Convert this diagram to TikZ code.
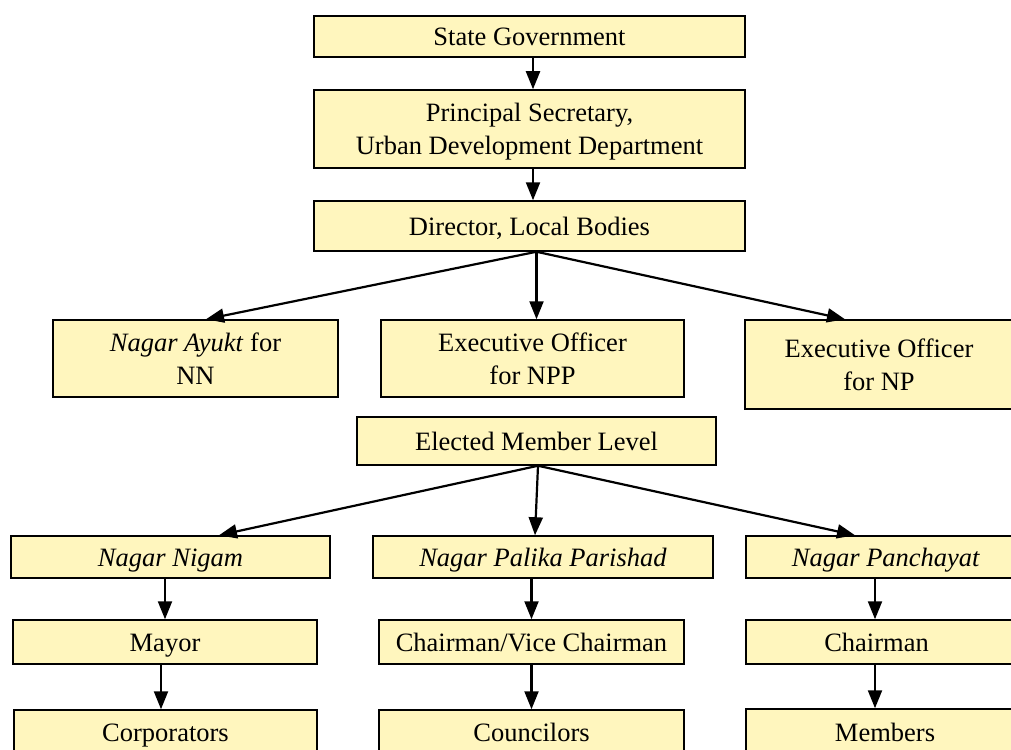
\documentclass[tikz,border=0pt]{standalone}
\usepackage{fontspec}
\setmainfont{Liberation Serif}
\usetikzlibrary{arrows.meta}
\definecolor{boxfill}{HTML}{FFF6BE}
\newcommand{\bs}{\rule[-7pt]{0pt}{32pt}}
\tikzset{
	box/.style={draw=black, line width=1.5pt, fill=boxfill, align=center, inner sep=0pt,
		font=\fontsize{26.5}{31}\selectfont},
	arr/.style={line width=2.2pt, -{Triangle[length=18pt, width=14pt]}}
}
\begin{document}
\begin{tikzpicture}[x=1pt, y=-1pt]
		\useasboundingbox (0, 0) rectangle (1011, 749);
		% officer level
		\node[box, minimum width=431, minimum height=41] (gov) at (529.5, 36.5) {\bs State Government};
		\node[box, minimum width=431, minimum height=78] (psec) at (529.5, 129) {\bs Principal Secretary,\\Urban Development Department\bs};
		\node[box, minimum width=431, minimum height=50] (dir) at (529.5, 226) {\bs Director, Local Bodies};
		\node[box, minimum width=285, minimum height=77] (ayukt) at (195.5, 358.5) {\bs\textit{Nagar Ayukt} for\\NN\bs};
		\node[box, minimum width=303, minimum height=77] (npp) at (532.5, 358.5) {\bs Executive Officer\\for NPP\bs};
		\node[box, minimum width=315, minimum height=89] (np) at (902.5, 364.5) {\bs Executive Officer\hspace*{47pt}\\for NP\hspace*{47pt}\bs};
		\draw[arr] ([xshift=3.5pt]gov.south) -- ([xshift=3.5pt]psec.north);
		\draw[arr] ([xshift=3.5pt]psec.south) -- ([xshift=3.5pt]dir.north);
		\draw[arr] ([xshift=7pt]dir.south) -- ([xshift=10.5pt]ayukt.north);
		\draw[arr] ([xshift=7pt]dir.south) -- ([xshift=4pt]npp.north);
		\draw[arr] ([xshift=7pt]dir.south) -- ([xshift=-57.5pt]np.north);
		% elected member level
		\node[box, minimum width=359, minimum height=48] (elect) at (536.5, 441) {\bs Elected Member Level};
		\node[box, minimum width=319, minimum height=42] (nigam) at (170.5, 557) {\bs\textit{Nagar Nigam}};
		\node[box, minimum width=340, minimum height=42] (palika) at (543, 557) {\bs\textit{Nagar Palika Parishad}};
		\node[box, minimum width=314, minimum height=42] (panch) at (903, 557) {\bs\textit{Nagar Panchayat}\hspace*{34pt}};
		\node[box, minimum width=304, minimum height=44] (mayor) at (165, 642) {\bs Mayor};
		\node[box, minimum width=305, minimum height=44] (chvc) at (531.5, 642) {\bs Chairman/Vice Chairman};
		\node[box, minimum width=314, minimum height=44] (chair) at (903, 642) {\bs Chairman\hspace*{53pt}};
		\node[box, minimum width=303, minimum height=44] (corp) at (165.5, 732) {\bs Corporators};
		\node[box, minimum width=305, minimum height=44] (counc) at (531.5, 732) {\bs Councilors};
		\node[box, minimum width=314, minimum height=46] (members) at (903, 732) {\bs Members\hspace*{36pt}};
		\draw[arr] ([xshift=1.5pt]elect.south) -- ([xshift=48.5pt]nigam.north);
		\draw[arr] ([xshift=1.5pt]elect.south) -- ([xshift=-8pt]palika.north);
		\draw[arr] ([xshift=1.5pt]elect.south) -- ([xshift=-48pt]panch.north);
		\draw[arr] ([xshift=-5.5pt]nigam.south) -- (mayor.north);
		\draw[arr] (palika.south -| chvc) -- (chvc.north);
		\draw[arr] ([xshift=-28pt]panch.south) -- ([xshift=-28pt]chair.north);
		\draw[arr] ([xshift=-4pt]mayor.south) -- ([xshift=-4pt]corp.north -| mayor);
		\draw[arr] (chvc.south) -- (counc.north);
		\draw[arr] ([xshift=-28pt]chair.south) -- ([xshift=-28pt]members.north);
	\end{tikzpicture}
\end{document}
